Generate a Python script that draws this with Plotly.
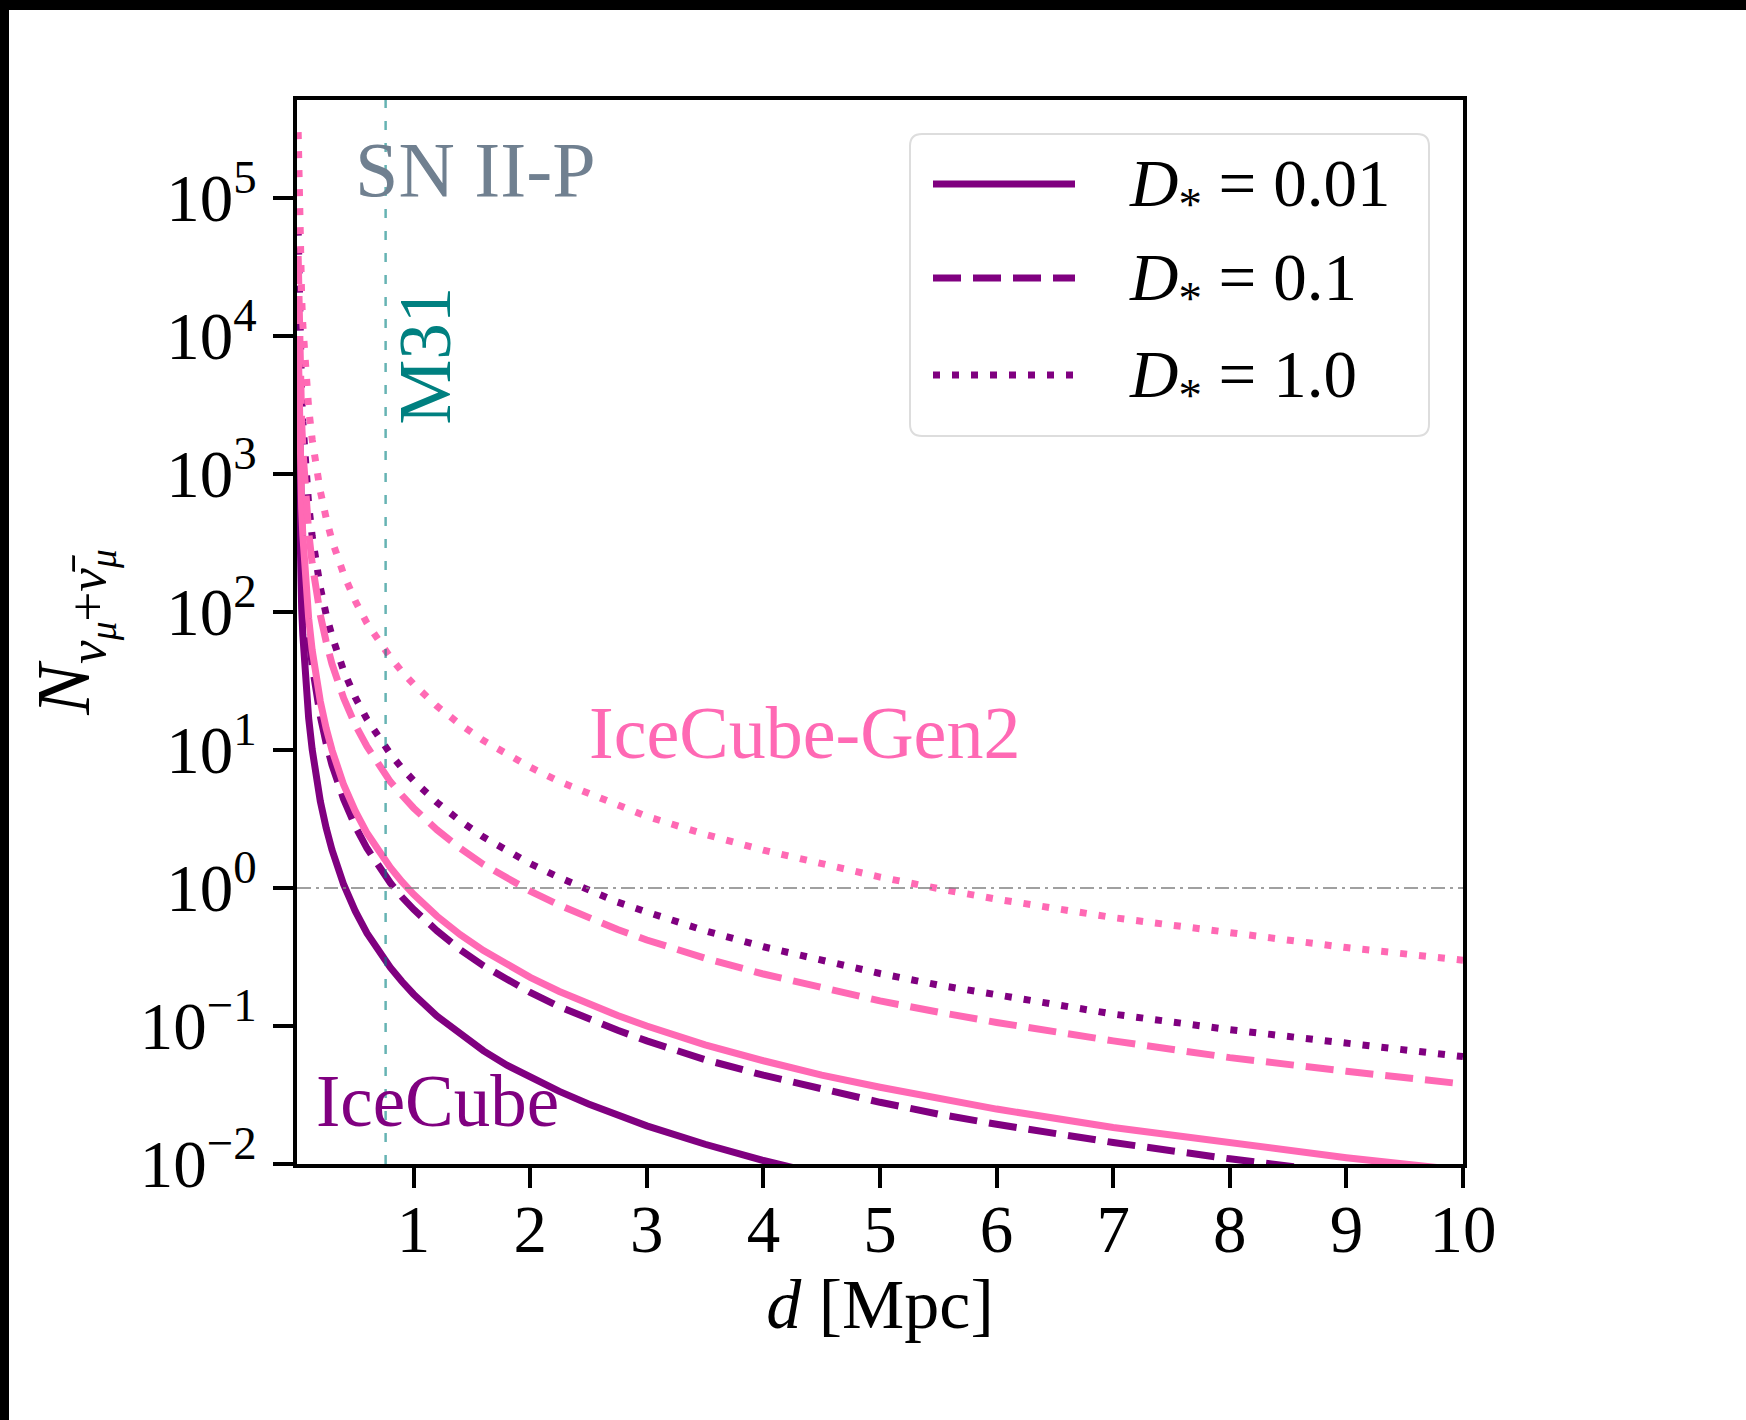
import plotly.graph_objects as go

# ---------------- data ----------------
d_mpc = [0.01, 0.015, 0.02, 0.03, 0.04, 0.05, 0.07, 0.1, 0.13, 0.17, 0.2, 0.25, 0.3, 0.4,
         0.5, 0.6, 0.7, 0.8, 0.9, 1.0, 1.2, 1.4, 1.6, 1.8, 2.0, 2.25, 2.5, 2.75, 3.0, 3.5,
         4.0, 4.5, 5.0, 5.5, 6.0, 7.0, 8.0, 9.0, 10.0]

icecube_d001 = [1700, 760, 425, 189, 106, 68, 35, 17, 10.1, 5.9, 4.25, 2.72, 1.89, 1.06,
                0.68, 0.47, 0.347, 0.266, 0.21, 0.17, 0.118, 0.087, 0.066, 0.052, 0.0425,
                0.0336, 0.0272, 0.0225, 0.0189, 0.0139, 0.0106, 0.0084, 0.0068, 0.0056,
                0.0047, 0.0035, 0.0027, 0.0021, 0.0017]
icecube_d01 = [7000, 3100, 1750, 780, 440, 280, 143, 70, 41, 24.2, 17.5, 11.2, 7.8, 4.4,
               2.8, 1.94, 1.43, 1.09, 0.86, 0.70, 0.49, 0.357, 0.273, 0.216, 0.175, 0.138,
               0.112, 0.093, 0.078, 0.057, 0.044, 0.035, 0.028, 0.023, 0.0194, 0.0143,
               0.0109, 0.0086, 0.0070]
icecube_d1 = [60000, 26700, 15000, 6700, 3750, 2400, 1220, 600, 355, 208, 150, 96, 67, 37.5,
              24, 16.7, 12.2, 9.4, 7.4, 6.0, 4.17, 3.06, 2.34, 1.85, 1.5, 1.19, 0.96, 0.79,
              0.67, 0.49, 0.375, 0.296, 0.24, 0.198, 0.167, 0.122, 0.094, 0.074, 0.060]
gen2_d001 = [9000, 4000, 2250, 1000, 560, 360, 184, 90, 53, 31, 22.5, 14.4, 10, 5.6, 3.6,
             2.5, 1.84, 1.41, 1.11, 0.90, 0.625, 0.459, 0.352, 0.278, 0.225, 0.178, 0.144,
             0.119, 0.100, 0.073, 0.056, 0.044, 0.036, 0.030, 0.025, 0.0184, 0.0141,
             0.0111, 0.0090]
gen2_d01 = [38000, 16900, 9500, 4200, 2380, 1520, 780, 380, 225, 131, 95, 61, 42, 23.8,
            15.2, 10.6, 7.8, 5.9, 4.7, 3.8, 2.64, 1.94, 1.48, 1.17, 0.95, 0.75, 0.61, 0.50,
            0.42, 0.31, 0.238, 0.188, 0.152, 0.126, 0.106, 0.078, 0.059, 0.047, 0.038]
gen2_d1 = [300000, 133000, 75000, 33000, 18800, 12000, 6100, 3000, 1780, 1040, 750, 480,
           330, 188, 120, 83, 61, 47, 37, 30, 20.8, 15.3, 11.7, 9.3, 7.5, 5.9, 4.8, 4.0,
           3.3, 2.45, 1.88, 1.48, 1.2, 0.99, 0.83, 0.61, 0.47, 0.37, 0.30]

m31_distance = 0.76
threshold_events = 1.0

x_range = [0, 10]
y_log_range = [-2, 5.71]
x_tickvals = [1, 2, 3, 4, 5, 6, 7, 8, 9, 10]
y_tickvals = [1e-2, 1e-1, 1e0, 1e1, 1e2, 1e3, 1e4, 1e5]
y_ticktext = ["10<sup>−2</sup>", "10<sup>−1</sup>", "10<sup>0</sup>", "10<sup>1</sup>",
              "10<sup>2</sup>", "10<sup>3</sup>", "10<sup>4</sup>", "10<sup>5</sup>"]

legend_labels = ["<i>D</i><sub>*</sub> = 0.01", "<i>D</i><sub>*</sub> = 0.1",
                 "<i>D</i><sub>*</sub> = 1.0"]

# ---------------- styling ----------------
PURPLE = "#800080"
PINK = "#ff69b4"
TEAL = "#008080"
FONT = "Liberation Serif"
FS = 67
LW = 7
DASH = "28px,12px"
DOT = "7px,12px"

fig = go.Figure()

series = [
    (icecube_d001, PURPLE, "solid"),
    (icecube_d01, PURPLE, DASH),
    (icecube_d1, PURPLE, DOT),
    (gen2_d001, PINK, "solid"),
    (gen2_d01, PINK, DASH),
    (gen2_d1, PINK, DOT),
]
for yv, col, dash in series:
    fig.add_trace(go.Scatter(x=d_mpc, y=yv, mode="lines",
                             line=dict(color=col, width=LW, dash=dash),
                             showlegend=False, hoverinfo="skip"))

# reference lines
fig.add_trace(go.Scatter(x=x_range, y=[threshold_events, threshold_events], mode="lines",
                         line=dict(color="rgba(128,128,128,0.75)", width=2,
                                   dash="14px,5px,3px,5px"),
                         showlegend=False, hoverinfo="skip"))
fig.add_trace(go.Scatter(x=[m31_distance, m31_distance],
                         y=[10 ** y_log_range[0], 10 ** y_log_range[1]],
                         mode="lines",
                         line=dict(color="rgba(0,128,128,0.6)", width=2.5, dash="9px,13px"),
                         showlegend=False, hoverinfo="skip"))

# ---------------- layout ----------------
L, R, T, B = 297, 283, 100, 256
W, H = 1746, 1420
pw, ph = W - L - R, H - T - B


def px_x(px):
    return (px - L) / pw


def px_y(py):
    return (H - B - py) / ph


shapes = []
# black border bands of the original image (top & left)
shapes.append(dict(type="rect", xref="paper", yref="paper", x0=px_x(-5), x1=px_x(W + 5),
                   y0=px_y(10), y1=px_y(-5), fillcolor="black", line=dict(width=0),
                   layer="above"))
shapes.append(dict(type="rect", xref="paper", yref="paper", x0=px_x(-5), x1=px_x(9),
                   y0=px_y(H + 5), y1=px_y(-5), fillcolor="black", line=dict(width=0),
                   layer="above"))

# legend box (rounded)
bx0, bx1, by0, by1 = px_x(910), px_x(1429), px_y(436), px_y(134)
rx, ry = 12 / pw, 12 / ph
path = (f"M {bx0+rx},{by1} L {bx1-rx},{by1} Q {bx1},{by1} {bx1},{by1-ry} "
        f"L {bx1},{by0+ry} Q {bx1},{by0} {bx1-rx},{by0} L {bx0+rx},{by0} "
        f"Q {bx0},{by0} {bx0},{by0+ry} L {bx0},{by1-ry} Q {bx0},{by1} {bx0+rx},{by1} Z")
shapes.append(dict(type="path", xref="paper", yref="paper", path=path,
                   fillcolor="rgba(255,255,255,0.8)", line=dict(color="#dddddd", width=2),
                   layer="above"))
rows_px = [184, 278, 375]
dashes = ["solid", DASH, DOT]
for rp, dsh in zip(rows_px, dashes):
    shapes.append(dict(type="line", xref="paper", yref="paper", x0=px_x(933), x1=px_x(1075),
                       y0=px_y(rp), y1=px_y(rp), line=dict(color=PURPLE, width=LW, dash=dsh),
                       layer="above"))

annotations = []
for rp, lab in zip(rows_px, legend_labels):
    annotations.append(dict(xref="paper", yref="paper", x=px_x(1127), y=px_y(rp + 4), text=lab,
                            showarrow=False, xanchor="left", yanchor="middle",
                            font=dict(family=FONT, size=FS, color="black")))

annotations += [
    dict(xref="x", yref="y", x=0.48, y=5.21, text="SN II-P", showarrow=False,
         xanchor="left", yanchor="middle", font=dict(family=FONT, size=78, color="#708090")),
    dict(xref="x", yref="y", x=1.1, y=3.86, text="M31", showarrow=False, textangle=-90,
         xanchor="center", yanchor="middle", font=dict(family=FONT, size=73, color=TEAL)),
    dict(xref="x", yref="y", x=0.15, y=-1.55, text="IceCube", showarrow=False,
         xanchor="left", yanchor="middle", font=dict(family=FONT, size=73, color=PURPLE)),
    dict(xref="x", yref="y", x=2.49, y=1.12, text="IceCube-Gen2", showarrow=False,
         xanchor="left", yanchor="middle", font=dict(family=FONT, size=74, color=PINK)),
]

fig.update_layout(
    width=W, height=H,
    margin=dict(l=L, r=R, t=T, b=B, pad=0),
    paper_bgcolor="white", plot_bgcolor="white",
    font=dict(family=FONT, size=FS, color="black"),
    showlegend=False,
    shapes=shapes,
    annotations=annotations,
    xaxis=dict(range=x_range, tickvals=x_tickvals, ticks="outside", ticklen=20, tickwidth=4,
               tickcolor="black", showline=True, linecolor="black", linewidth=4, mirror=True,
               showgrid=False, zeroline=False, ticklabelstandoff=-16,
               tickfont=dict(family=FONT, size=FS),
               title=dict(text="<i>d</i> [Mpc]", font=dict(family=FONT, size=70), standoff=14)),
    yaxis=dict(type="log", range=y_log_range, tickvals=y_tickvals, ticktext=y_ticktext,
               ticks="outside", ticklen=20, tickwidth=4, tickcolor="black",
               showline=True, linecolor="black", linewidth=4, mirror=True,
               showgrid=False, zeroline=False, ticklabelstandoff=3,
               tickfont=dict(family=FONT, size=FS),
               title=dict(text="<i>N</i><sub><i>ν</i><sub><i>μ</i></sub>+<i>ν̄</i><sub><i>μ</i></sub></sub>",
                          font=dict(family=FONT, size=76), standoff=26)),
)

fig.write_html("out.html")
